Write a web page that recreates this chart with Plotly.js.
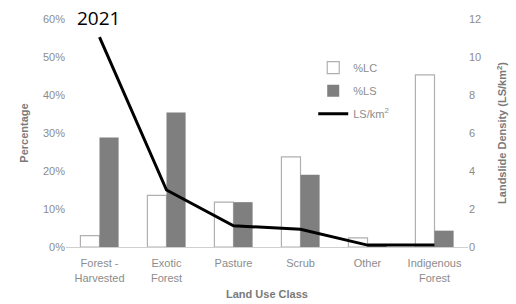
<!DOCTYPE html>
<html><head><meta charset="utf-8">
<script src="https://cdn.plot.ly/plotly-3.0.1.min.js"></script>
<style>body{margin:0;background:#fff}#c{width:516px;height:304px}</style>
</head><body><div id="c"></div>
<script>
const categories = ["Forest -<br>Harvested", "Exotic<br>Forest", "Pasture", "Scrub", "Other", "Indigenous<br>Forest"];
const pctLC = [3.0, 13.6, 11.8, 23.7, 2.4, 45.3];
const pctLS = [28.8, 35.4, 11.8, 19.0, 0.3, 4.3];
const lsDensity = [11.05, 3.0, 1.12, 0.93, 0.1, 0.1];
const leftTicks = [0, 10, 20, 30, 40, 50, 60];
const rightTicks = [0, 2, 4, 6, 8, 10, 12];

const gray = '#8c8c8c';
const fam = 'Liberation Sans';
const font = {family: fam, size: 11, color: gray};

const traces = [
  {type: 'bar', name: '%LC', x: categories, y: pctLC, legendgroup: 'a',
   marker: {color: '#ffffff', line: {color: '#b0b0b0', width: 1.2}}},
  {type: 'bar', name: '%LS', x: categories, y: pctLS, legendgroup: 'b',
   marker: {color: '#7f7f7f', line: {width: 0}}},
  {type: 'scatter', mode: 'lines', name: 'LS/km<sup>2</sup>', x: categories, y: lsDensity, legendgroup: 'c',
   yaxis: 'y2', line: {color: '#000', width: 3}}
];

const layout = {
  width: 516, height: 304,
  margin: {l: 66, r: 48, t: 19, b: 57},
  paper_bgcolor: '#fff', plot_bgcolor: '#fff',
  font: font,
  barmode: 'group', bargap: 0.43, bargroupgap: 0,
  showlegend: true,
  legend: {x: 0.615, y: 0.85, xanchor: 'left', yanchor: 'top', bgcolor: 'rgba(0,0,0,0)',
           font: {family: fam, size: 11, color: gray}, tracegroupgap: 4},
  xaxis: {showgrid: false, showline: true, linecolor: '#d0d0d0', linewidth: 1, ticks: '',
          ticklabelstandoff: 6,
          tickfont: {family: fam, size: 11, color: gray},
          title: {text: '<b>Land Use Class</b>', font: {family: fam, size: 11, color: '#7a7a7a'}, standoff: 7}},
  yaxis: {range: [0, 60], tickvals: leftTicks, ticktext: leftTicks.map(v => v + '%'),
          showgrid: false, zeroline: false, showline: false, ticks: '',
          tickfont: {family: fam, size: 11, color: gray},
          title: {text: '<b>Percentage</b>', font: {family: fam, size: 11, color: '#7a7a7a'}, standoff: 12}},
  yaxis2: {range: [0, 12], tickvals: rightTicks, overlaying: 'y', side: 'right',
           showgrid: false, zeroline: false, showline: false, ticks: '',
           tickfont: {family: fam, size: 11, color: gray},
           title: {text: '<b>Landslide Density (LS/km<sup>2</sup>)</b>', font: {family: fam, size: 11, color: '#7a7a7a'}, standoff: 18}},
  annotations: [{text: '2021', xref: 'paper', yref: 'paper', x: 0.08, y: 1.0, yanchor: 'bottom',
                 xanchor: 'center', showarrow: false, yshift: -14,
                 font: {family: 'Open Sans', size: 19, color: '#000'}}]
};

Plotly.newPlot('c', traces, layout, {displayModeBar: false, staticPlot: true});
</script></body></html>
